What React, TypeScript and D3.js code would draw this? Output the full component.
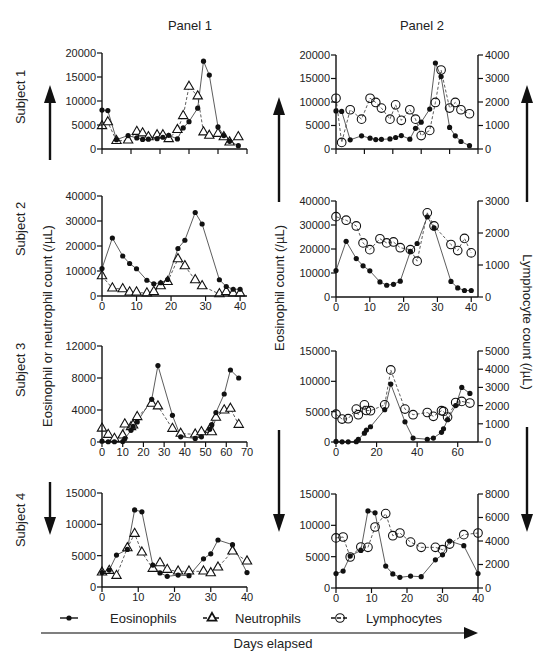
import React from 'react';
import * as d3 from 'd3';

// ---------------- data ----------------
const s1Days = [0, 2, 5, 9, 12, 14, 16, 19, 21, 23, 26, 28, 30, 33, 35, 37, 40, 42, 44, 47];
const s1Eos = [8100, 8000, 1950, 2800, 2300, 2000, 2050, 2150, 2450, 2850, 2100, 4400, 5700, 8500, 18300, 15400, 4600, 2800, 1600, 700];
const s1Neu = [4800, 5600, 1700, 1800, 3600, 3300, 2500, 2900, 2900, 2100, 4000, 6900, 13000, 11000, 3500, 2800, 3200, 2500, 1400, 2500];
const s1Lym = [2160, 280, 1670, 1270, 2160, 1980, 1740, 1270, 1880, 1220, 1670, 1270, 570, 790, 1980, 3360, 1740, 1980, 1670, 1500];

const s2Days = [0, 3, 6, 8, 10, 13, 15, 17, 19, 22, 24, 27, 29, 34, 36, 38, 40];
const s2Eos = [11000, 23200, 16000, 13000, 10900, 6300, 4900, 5300, 6600, 19000, 22300, 33400, 28800, 6500, 3800, 2700, 2700];
const s2Neu = [8000, 3100, 2800, 1500, 1500, 1100, 1700, 4000, 5700, 14800, 12000, 6400, 4000, 800, 1700, 1100, 1100];
const s2Lym = [2510, 2400, 2220, 1690, 1480, 1820, 1690, 1720, 1540, 1480, 1120, 2630, 2220, 1640, 1450, 1830, 1380];

const s3Days = [0, 3, 6, 10, 11, 14, 15, 17, 24, 27, 34, 38, 45, 48, 52, 53, 55, 59, 62, 66];
const s3Eos = [100, 30, 30, 50, 420, 1460, 1960, 2510, 5330, 9550, 3330, 650, 450, 650, 1590, 2170, 3680, 6000, 9000, 8000];
const s3Neu = [1700, 920, 420, 840, 2220, 1880, 2090, 3140, 4810, 4480, 1670, 1050, 960, 1250, 1550, 1250, 3050, 3970, 4180, 2170];
const s3Lym = [1530, 1260, 1280, 1810, 1500, 2040, 1730, 1720, 2040, 3960, 1810, 1500, 1620, 1410, 1720, 1680, 1370, 2170, 2230, 2140];

const s4Days = [0, 2, 4, 7, 9, 11, 14, 16, 18, 21, 24, 28, 30, 32, 36, 40];
const s4Eos = [2300, 2700, 5100, 6000, 12300, 12000, 3500, 2250, 1700, 1900, 1800, 4500, 5300, 7500, 6750, 2300];
const s4Neu = [2340, 2610, 1810, 6220, 8510, 5530, 2930, 3830, 2770, 2500, 2500, 2500, 2230, 3140, 5690, 4100];
const s4Lym = [4260, 4340, 2640, 3490, 3460, 5190, 6330, 4450, 4680, 3910, 3460, 3460, 3260, 3740, 4540, 4680];

const panelTitles = ['Panel 1', 'Panel 2'];
const subjectLabels = ['Subject 1', 'Subject 2', 'Subject 3', 'Subject 4'];
const legendLabels = ['Eosinophils', 'Neutrophils', 'Lymphocytes'];

const s1XTicks = [0, 10, 20, 30, 40, 50];
const s2XTicks = [0, 10, 20, 30, 40];
const s3XTicksLeft = [0, 10, 20, 30, 40, 50, 60, 70];
const s3XTicksRight = [0, 20, 40, 60];
const s4XTicks = [0, 10, 20, 30, 40];

const s1YTicks = [0, 5000, 10000, 15000, 20000];
const s2YTicks = [0, 10000, 20000, 30000, 40000];
const s3YTicksLeft = [0, 4000, 8000, 12000];
const s3YTicksRight = [0, 5000, 10000, 15000];
const s4YTicks = [0, 5000, 10000, 15000];

const s1RTicks = [0, 1000, 2000, 3000, 4000];
const s2RTicks = [0, 1000, 2000, 3000];
const s3RTicks = [0, 1000, 2000, 3000, 4000, 5000];
const s4RTicks = [0, 2000, 4000, 6000, 8000];

// ---------------- styling ----------------
const FONT = '"Liberation Sans", Arial, Helvetica, sans-serif';
const INK = '#111';

type Kind = 'eos' | 'neu' | 'lym';
type SeriesDef = { kind: Kind; days: number[]; values: number[]; axis: 'left' | 'right' };

type PanelDef = {
  x0: number; x1: number; top: number; bottom: number;
  xMax: number; xTicks: number[]; showXLabels: boolean;
  yMax: number; yTicks: number[];
  rMax?: number; rTicks?: number[];
  series: SeriesDef[];
};

const triPath = d3.symbol().type(d3.symbolTriangle).size(38)() as string;
const triLegend = d3.symbol().type(d3.symbolTriangle).size(34)() as string;

function Marker({ kind, x, y }: { kind: Kind; x: number; y: number }) {
  if (kind === 'eos') return <circle cx={x} cy={y} r={2.6} fill={INK} />;
  if (kind === 'neu')
    return <path d={triPath} transform={`translate(${x},${y})`} fill="#fff" stroke={INK} strokeWidth={1.1} />;
  return <circle cx={x} cy={y} r={4.3} fill="none" stroke={INK} strokeWidth={1.1} />;
}

function Panel({ p }: { p: PanelDef }) {
  const xs = d3.scaleLinear().domain([0, p.xMax]).range([p.x0, p.x1]);
  const ys = d3.scaleLinear().domain([0, p.yMax]).range([p.bottom, p.top]);
  const rs = p.rMax ? d3.scaleLinear().domain([0, p.rMax]).range([p.bottom, p.top]) : null;
  const order: Kind[] = ['lym', 'neu', 'eos'];
  const sorted = [...p.series].sort((a, b) => order.indexOf(a.kind) - order.indexOf(b.kind));
  return (
    <g>
      {sorted.map((s, si) => {
        const sc = s.axis === 'right' && rs ? rs : ys;
        const line = d3
          .line<number>()
          .x((_, i) => xs(s.days[i]))
          .y((d) => sc(d));
        return (
          <path
            key={'l' + si}
            d={line(s.values) || ''}
            fill="none"
            stroke="#333"
            strokeWidth={0.8}
            strokeDasharray={s.kind === 'eos' ? undefined : '3,2'}
          />
        );
      })}
      {sorted.map((s, si) => {
        const sc = s.axis === 'right' && rs ? rs : ys;
        return (
          <g key={'m' + si}>
            {s.values.map((v, i) => (
              <Marker key={i} kind={s.kind} x={xs(s.days[i])} y={sc(v)} />
            ))}
          </g>
        );
      })}
      {/* left axis */}
      <line x1={p.x0} x2={p.x0} y1={p.top} y2={p.bottom} stroke={INK} strokeWidth={1.4} />
      {p.yTicks.map((t) => (
        <g key={'y' + t}>
          <line x1={p.x0 - 5} x2={p.x0} y1={ys(t)} y2={ys(t)} stroke={INK} strokeWidth={1.2} />
          <text x={p.x0 - 6} y={ys(t)} dy="0.36em" textAnchor="end" fontSize={11} fontFamily={FONT} fill="#222">
            {t}
          </text>
        </g>
      ))}
      {/* bottom axis */}
      <line x1={p.x0} x2={p.x1} y1={p.bottom} y2={p.bottom} stroke={INK} strokeWidth={1.4} />
      {p.xTicks.map((t) => (
        <g key={'x' + t}>
          <line x1={xs(t)} x2={xs(t)} y1={p.bottom} y2={p.bottom + 5} stroke={INK} strokeWidth={1.2} />
          {p.showXLabels && (
            <text x={xs(t)} y={p.bottom + 14} textAnchor="middle" fontSize={11} fontFamily={FONT} fill="#222">
              {t}
            </text>
          )}
        </g>
      ))}
      {/* right axis */}
      {rs && p.rTicks && (
        <g>
          <line x1={p.x1} x2={p.x1} y1={p.top} y2={p.bottom} stroke={INK} strokeWidth={1.4} />
          {p.rTicks.map((t) => (
            <g key={'r' + t}>
              <line x1={p.x1} x2={p.x1 + 5} y1={rs(t)} y2={rs(t)} stroke={INK} strokeWidth={1.2} />
              <text x={p.x1 + 7} y={rs(t)} dy="0.36em" textAnchor="start" fontSize={11} fontFamily={FONT} fill="#222">
                {t}
              </text>
            </g>
          ))}
        </g>
      )}
    </g>
  );
}

function VArrow({ x, tip, tail }: { x: number; tip: number; tail: number }) {
  const dir = tip < tail ? 1 : -1; // 1 = pointing up
  const head = 18;
  const base = tip + dir * head;
  return (
    <g>
      <line x1={x} x2={x} y1={base} y2={tail} stroke={INK} strokeWidth={2.4} />
      <polygon points={`${x},${tip} ${x - 6},${base} ${x + 6},${base}`} fill={INK} />
    </g>
  );
}

export default function App() {
  const L = { x0: 102, x1: 247 };
  const R = { x0: 336, x1: 478 };
  const panels: PanelDef[] = [
    // Subject 1
    { ...L, top: 53, bottom: 149, xMax: 50, xTicks: s1XTicks, showXLabels: false, yMax: 20000, yTicks: s1YTicks,
      series: [{ kind: 'eos', days: s1Days, values: s1Eos, axis: 'left' }, { kind: 'neu', days: s1Days, values: s1Neu, axis: 'left' }] },
    { ...R, top: 55, bottom: 149, xMax: 50, xTicks: s1XTicks, showXLabels: false, yMax: 20000, yTicks: s1YTicks, rMax: 4000, rTicks: s1RTicks,
      series: [{ kind: 'eos', days: s1Days, values: s1Eos, axis: 'left' }, { kind: 'lym', days: s1Days, values: s1Lym, axis: 'right' }] },
    // Subject 2
    { ...L, top: 196, bottom: 296, xMax: 42, xTicks: s2XTicks, showXLabels: true, yMax: 40000, yTicks: s2YTicks,
      series: [{ kind: 'eos', days: s2Days, values: s2Eos, axis: 'left' }, { kind: 'neu', days: s2Days, values: s2Neu, axis: 'left' }] },
    { ...R, top: 201, bottom: 297, xMax: 42, xTicks: s2XTicks, showXLabels: true, yMax: 40000, yTicks: s2YTicks, rMax: 3000, rTicks: s2RTicks,
      series: [{ kind: 'eos', days: s2Days, values: s2Eos, axis: 'left' }, { kind: 'lym', days: s2Days, values: s2Lym, axis: 'right' }] },
    // Subject 3
    { ...L, top: 346, bottom: 442, xMax: 70, xTicks: s3XTicksLeft, showXLabels: true, yMax: 12000, yTicks: s3YTicksLeft,
      series: [{ kind: 'eos', days: s3Days, values: s3Eos, axis: 'left' }, { kind: 'neu', days: s3Days, values: s3Neu, axis: 'left' }] },
    { ...R, top: 351, bottom: 442, xMax: 70, xTicks: s3XTicksRight, showXLabels: true, yMax: 15000, yTicks: s3YTicksRight, rMax: 5000, rTicks: s3RTicks,
      series: [{ kind: 'eos', days: s3Days, values: s3Eos, axis: 'left' }, { kind: 'lym', days: s3Days, values: s3Lym, axis: 'right' }] },
    // Subject 4
    { ...L, top: 493, bottom: 587, xMax: 40, xTicks: s4XTicks, showXLabels: true, yMax: 15000, yTicks: s4YTicks,
      series: [{ kind: 'eos', days: s4Days, values: s4Eos, axis: 'left' }, { kind: 'neu', days: s4Days, values: s4Neu, axis: 'left' }] },
    { ...R, top: 494, bottom: 588, xMax: 40, xTicks: s4XTicks, showXLabels: true, yMax: 15000, yTicks: s4YTicks, rMax: 8000, rTicks: s4RTicks,
      series: [{ kind: 'eos', days: s4Days, values: s4Eos, axis: 'left' }, { kind: 'lym', days: s4Days, values: s4Lym, axis: 'right' }] },
  ];

  const subjectY = [97, 229, 370, 520];
  const legendX = [
    { marker: 69, text: 110, kind: 'eos' as Kind },
    { marker: 212, text: 235, kind: 'neu' as Kind },
    { marker: 340, text: 366, kind: 'lym' as Kind },
  ];

  return (
    <svg width={548} height={662} style={{ position: 'absolute', left: 0, top: 0, background: '#fff' }}>
      <rect width={548} height={662} fill="#fff" />
      <text x={190} y={30} textAnchor="middle" fontSize={13} fontFamily={FONT} fill="#222">{panelTitles[0]}</text>
      <text x={422} y={30} textAnchor="middle" fontSize={13} fontFamily={FONT} fill="#222">{panelTitles[1]}</text>

      {subjectLabels.map((s, i) => (
        <text key={s} transform={`translate(25,${subjectY[i]}) rotate(-90)`} textAnchor="middle" fontSize={13} fontFamily={FONT} fill="#222">
          {s}
        </text>
      ))}
      <text transform="translate(52,326) rotate(-90)" textAnchor="middle" fontSize={13} fontFamily={FONT} fill="#222">
        Eosinophil or neutrophil count (/µL)
      </text>
      <text transform="translate(284,288) rotate(-90)" textAnchor="middle" fontSize={13} fontFamily={FONT} fill="#222">
        Eosinophil count (/µL)
      </text>
      <text transform="translate(523,322) rotate(90)" textAnchor="middle" fontSize={13} fontFamily={FONT} fill="#222">
        Lymphocyte count (/µL)
      </text>

      <VArrow x={50} tip={85} tail={160} />
      <VArrow x={50} tip={535} tail={482} />
      <VArrow x={279} tip={97} tail={202} />
      <VArrow x={279} tip={532} tail={430} />
      <VArrow x={527} tip={85} tail={202} />
      <VArrow x={527} tip={532} tail={427} />

      {panels.map((p, i) => (
        <Panel key={i} p={p} />
      ))}

      {/* legend */}
      {legendX.map((l, i) => (
        <g key={l.kind}>
          <line x1={l.marker - 9} x2={l.marker + 9} y1={618} y2={618} stroke={INK} strokeWidth={1.4}
            strokeDasharray={l.kind === 'eos' ? undefined : '4,2'} />
          {l.kind === 'neu' ? (
            <path d={triLegend} transform={`translate(${l.marker},618)`} fill="#fff" stroke={INK} strokeWidth={1.8} />
          ) : (
            <Marker kind={l.kind} x={l.marker} y={618} />
          )}
          <text x={l.text} y={622.5} fontSize={13} fontFamily={FONT} fill="#222">{legendLabels[i]}</text>
        </g>
      ))}

      {/* days elapsed arrow */}
      <line x1={41} x2={466} y1={633} y2={633} stroke="#555" strokeWidth={1.5} />
      <polygon points="464,627 478,633 464,639" fill={INK} />
      <text x={273} y={648} textAnchor="middle" fontSize={13} fontFamily={FONT} fill="#222">Days elapsed</text>
    </svg>
  );
}
